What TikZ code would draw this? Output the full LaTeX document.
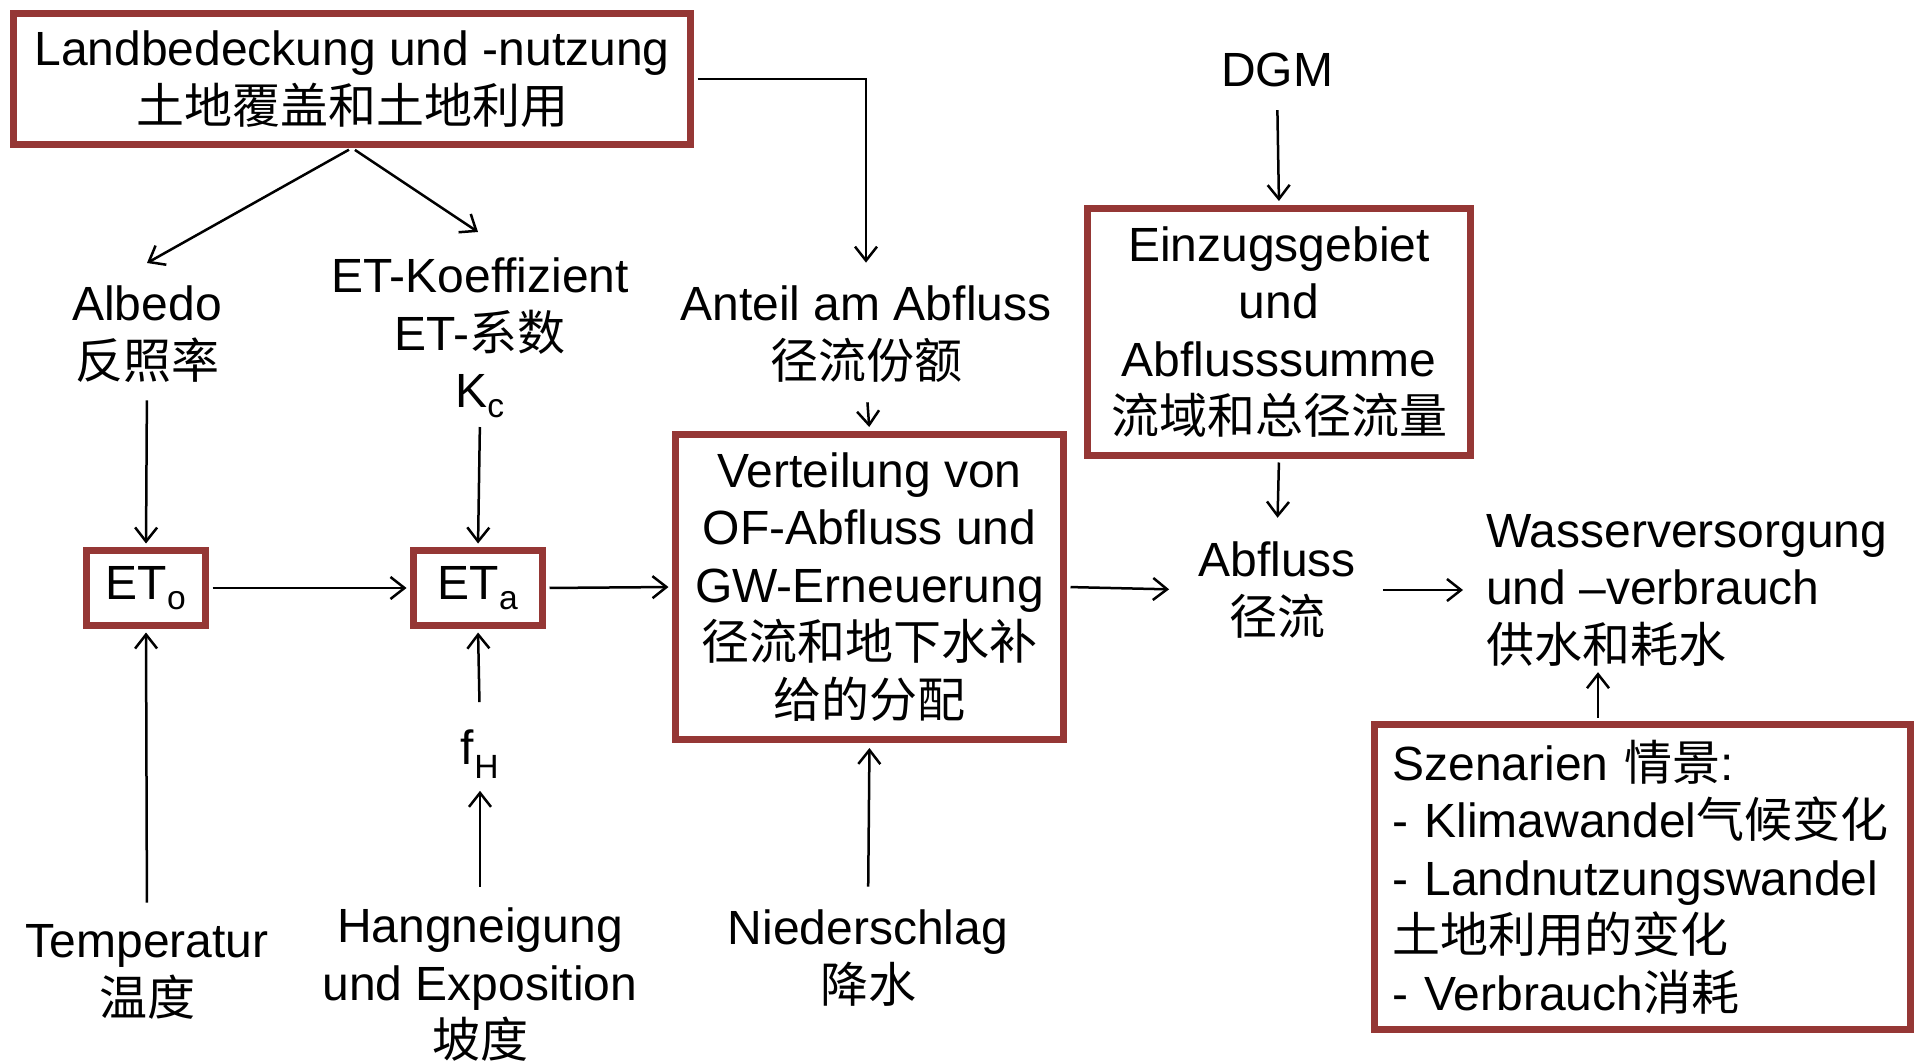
\documentclass[tikz,border=0pt]{standalone}
\usepackage{fontspec}
\setmainfont{Liberation Sans}
\newfontfamily\cjk{Noto Sans CJK SC}
\newcommand\zh[1]{{\cjk #1}}
\newcommand\bigfnt{\fontsize{48}{57.5}\selectfont\lineskiplimit -100pt\relax}
\usetikzlibrary{arrows.meta}
\definecolor{boxred}{RGB}{149,55,53}
\begin{document}
\begin{tikzpicture}[x=1pt,y=-1pt,
  txt/.style={font=\bigfnt, inner sep=0pt, align=center},
  rbox/.style={font=\bigfnt, draw=boxred, line width=7pt, align=center, inner sep=0pt, fill=white},
  arr/.style={-{Straight Barb[length=14pt,width=22pt]}, line width=2.5pt}]
\fill[white] (0,0) rectangle (1916,1064);
\useasboundingbox (0,0) rectangle (1916,1064);

% boxes and texts
\node[rbox, minimum width=677pt, minimum height=131pt] (land) at (352,79) {Landbedeckung und -nutzung\\\zh{土地覆盖和土地利用}};
\node[txt] (dgm) at (1277,70) {DGM};
\node[rbox, minimum width=383pt, minimum height=247pt] (ezg) at (1279,332) {Einzugsgebiet\\und\\Abflusssumme\\\zh{流域和总径流量}};
\node[txt] (albedo) at (147,334) {Albedo\\\zh{反照率}};
\node[txt] (etk) at (480,338) {ET-Koeffizient\\ET-\zh{系数}\\K\textsubscript{c}};
\node[txt] (anteil) at (866,334) {Anteil am Abfluss\\\zh{径流份额}};
\node[rbox, minimum width=119pt, minimum height=75pt] (eto) at (146,588) {ET\textsubscript{o}};
\node[rbox, minimum width=129pt, minimum height=75pt] (eta) at (478,588) {ET\textsubscript{a}};
\node[rbox, minimum width=388pt, minimum height=305pt] (vert) at (869.5,587) {Verteilung von\\OF-Abfluss und\\GW-Erneuerung\\\zh{径流和地下水补}\\\zh{给的分配}};
\node[txt] (abfluss) at (1277,590) {Abfluss\\\zh{径流}};
\node[txt, anchor=west, align=left] (wasser) at (1486,590) {Wasserversorgung\\und –verbrauch\\\zh{供水和耗水}};
\node[rbox, minimum height=305pt, text width=500pt, inner xsep=18pt, align=left] (szen) at (1642.5,877) {\mbox{Szenarien \zh{情景}:}\\\mbox{- Klimawandel\zh{气候变化}}\\\mbox{- Landnutzungswandel}\\\mbox{\zh{土地利用的变化}}\\\mbox{- Verbrauch\zh{消耗}}};
\node[txt] (fh) at (480,754) {f\textsubscript{H}};
\node[txt] (temp) at (147,972) {Temperatur\\\zh{温度}};
\node[txt] (hang) at (480,985) {Hangneigung\\und Exposition\\\zh{坡度}};
\node[txt] (nieder) at (868,958) {Niederschlag\\\zh{降水}};

% free ends
\coordinate (albTip) at (147,263);
\coordinate (etkTip) at (478,232);

% connectors
\draw[arr, shorten <=3.5pt] (land.south) -- (albTip);
\draw[arr, shorten <=3.5pt] (land.south) -- (etkTip);
\draw[arr, shorten <=3.5pt, shorten >=23pt] (land.east) -| (anteil.north);
\draw[arr, shorten <=23pt, shorten >=4pt] (dgm.south) -- (ezg.north);
\draw[arr, shorten <=3.5pt, shorten >=24pt] (ezg.south) -- (abfluss.north);
\draw[arr, shorten <=20pt, shorten >=4pt] (anteil.south) -- (vert.north);
\draw[arr, shorten <=18pt, shorten >=3.5pt] (albedo.south) -- (eto.north);
\draw[arr, shorten <=9pt, shorten >=3.5pt] (etk.south) -- (eta.north);
\draw[arr, shorten <=3.5pt, shorten >=3.5pt] (eto.east) -- (eta.west);
\draw[arr, shorten <=3.5pt, shorten >=3.5pt] (eta.east) -- (vert.west);
\draw[arr, shorten <=3.5pt, shorten >=29pt] (vert.east) -- (abfluss.west);
\draw[arr, shorten <=27pt, shorten >=23pt] (abfluss.east) -- (abfluss.east -| wasser.west);
\draw[arr, shorten <=22pt, shorten >=3.5pt] (temp.north) -- (eto.south);
\draw[arr, shorten <=27pt, shorten >=3.5pt] (fh.north) -- (eta.south);
\draw[arr, shorten <=21pt, shorten >=12pt] (hang.north) -- (fh.south);
\draw[arr, shorten <=23pt, shorten >=5pt] (nieder.north) -- (vert.south);
\draw[arr, shorten <=3.5pt, shorten >=6pt] ([xshift=-44.5pt]szen.north) -- ([xshift=-44.5pt]szen.north |- wasser.south);
\end{tikzpicture}
\end{document}
